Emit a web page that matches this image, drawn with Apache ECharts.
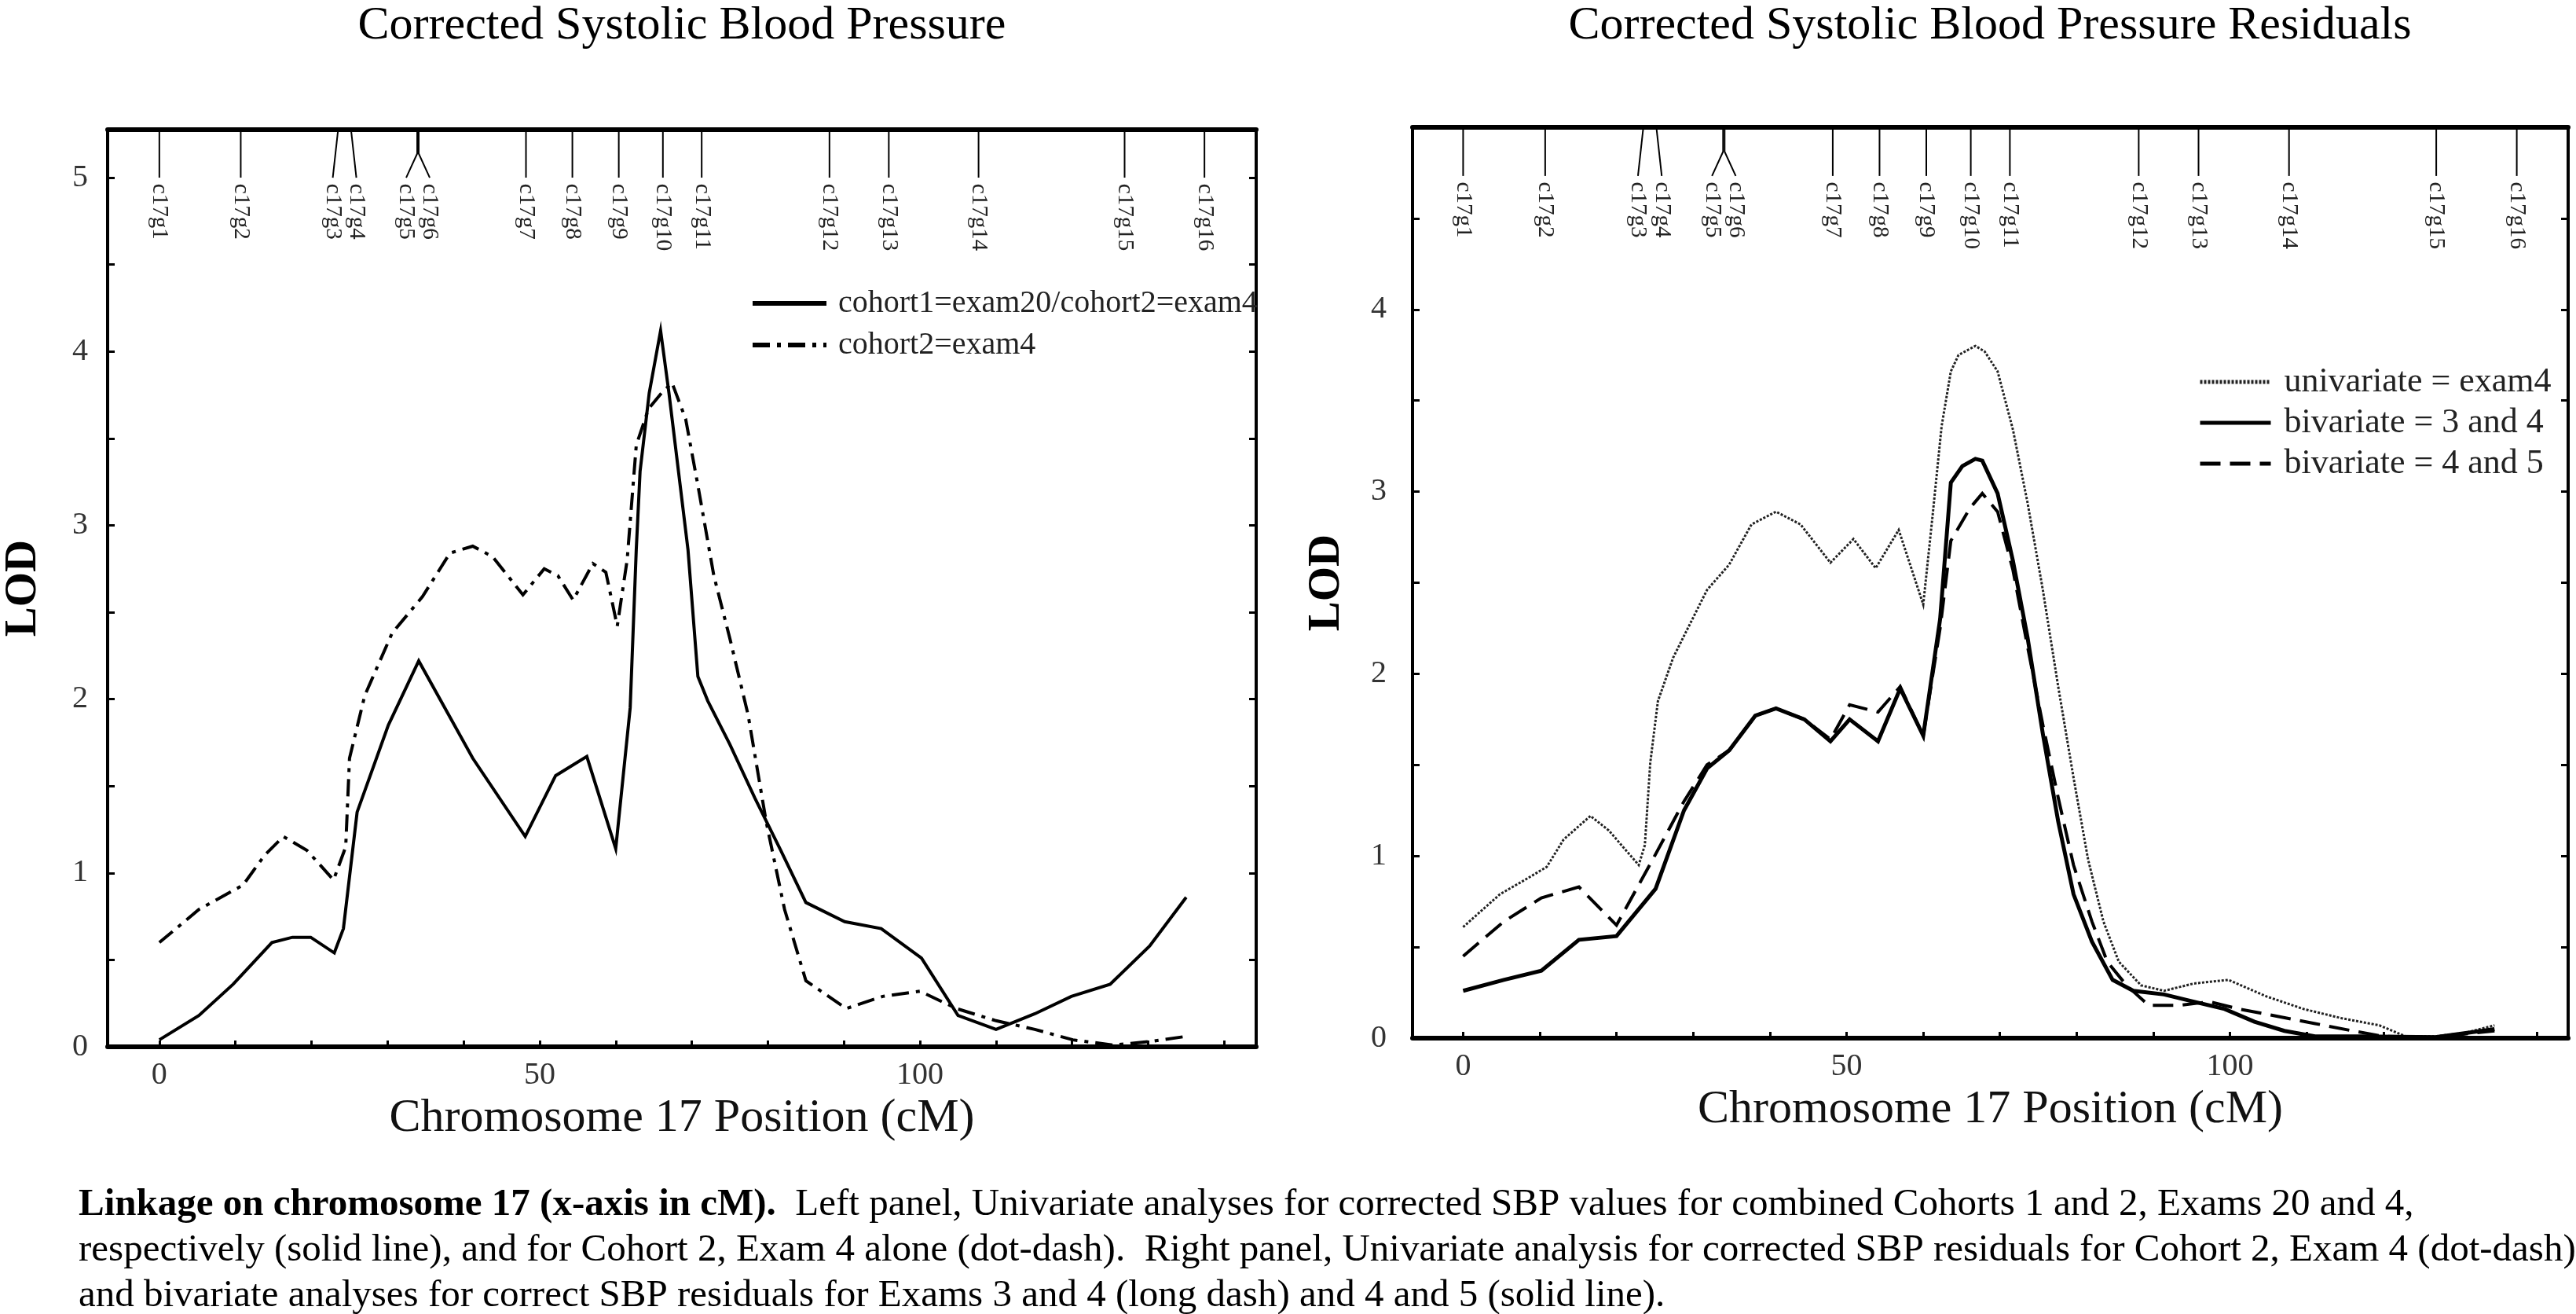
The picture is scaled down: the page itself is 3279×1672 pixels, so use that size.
<!DOCTYPE html>
<html>
<head>
<meta charset="utf-8">
<script src="https://cdn.jsdelivr.net/npm/echarts@6/dist/echarts.min.js"></script>
<style>
html,body{margin:0;padding:0;background:#fff;}
#c{width:3279px;height:1672px;}
</style>
</head>
<body>
<div id="c"></div>
<script>
// ---------------- DATA ----------------
const positionTickLabels = [0, 50, 100];
const lodTickLabelsLeft = [0, 1, 2, 3, 4, 5];
const lodTickLabelsRight = [0, 1, 2, 3, 4];

const markerNames = ['c17g1','c17g2','c17g3','c17g4','c17g5','c17g6','c17g7','c17g8','c17g9','c17g10','c17g11','c17g12','c17g13','c17g14','c17g15','c17g16'];
const markerPos = [0, 10.7, 23.5, 25.2, 33.9, 34.1, 48.2, 54.3, 60.4, 66.2, 71.3, 88.1, 95.9, 107.7, 126.9, 137.4];

const leftNames = ['cohort1=exam20/cohort2=exam4', 'cohort2=exam4'];
const rightNames = ['univariate = exam4', 'bivariate = 3 and 4', 'bivariate = 4 and 5'];

// Left panel: combined cohorts (solid)
const cohort1Exam20Cohort2Exam4 = [
  [0,0.04],[5.2,0.18],[9.7,0.36],[14.8,0.60],[17.5,0.63],[19.9,0.63],[23.0,0.54],[24.2,0.68],
  [26.0,1.35],[30.1,1.85],[34.1,2.22],[41.2,1.66],[48.1,1.21],[52.1,1.56],[56.2,1.67],[60.0,1.14],
  [61.9,1.95],[62.7,2.86],[63.2,3.31],[64.4,3.76],[65.9,4.12],[67.0,3.76],[69.5,2.86],[70.8,2.13],
  [72.1,1.99],[75.0,1.74],[78.3,1.43],[81.7,1.13],[85.0,0.83],[90.1,0.72],[94.9,0.68],[100.2,0.51],
  [105.0,0.18],[110.0,0.10],[115.1,0.19],[119.9,0.29],[125.0,0.36],[130.2,0.58],[135.0,0.86]
];
// Left panel: cohort 2 exam 4 (dot-dash)
const cohort2Exam4 = [
  [0,0.60],[5.2,0.79],[11.0,0.93],[13.8,1.10],[16.3,1.21],[19.4,1.13],[22.9,0.96],[24.5,1.15],
  [25.0,1.66],[27.0,2.02],[30.6,2.38],[34.6,2.59],[38.2,2.84],[41.2,2.88],[43.8,2.82],[47.8,2.60],
  [50.6,2.75],[52.4,2.71],[54.4,2.57],[57.0,2.78],[58.7,2.73],[60.2,2.42],[61.5,2.80],[62.7,3.46],
  [64.3,3.67],[66.0,3.76],[67.4,3.82],[69.2,3.61],[70.8,3.23],[72.9,2.71],[75.0,2.35],[77.4,1.91],
  [79.8,1.29],[82.2,0.79],[85.0,0.38],[90.3,0.22],[95.1,0.29],[100.0,0.32],[104.8,0.22],[110.0,0.15],
  [115.1,0.10],[120.1,0.04],[125.4,0.01],[130.2,0.03],[135.0,0.06]
];
// Right panel: univariate exam4 (dotted)
const univariateExam4 = [
  [0,0.61],[4.8,0.79],[7.7,0.86],[10.9,0.94],[13.1,1.09],[16.6,1.22],[19.0,1.14],[22.9,0.95],
  [23.7,1.06],[24.4,1.51],[25.4,1.85],[27.4,2.09],[29.3,2.25],[31.8,2.46],[34.7,2.60],[37.6,2.82],
  [40.8,2.89],[44.0,2.82],[47.9,2.61],[50.9,2.74],[53.8,2.58],[56.8,2.79],[60.0,2.38],[61.2,2.86],
  [62.4,3.36],[63.6,3.66],[64.6,3.75],[66.8,3.80],[68.0,3.77],[69.7,3.66],[71.7,3.34],[73.6,2.94],
  [75.6,2.46],[77.6,1.93],[79.6,1.43],[81.5,0.98],[83.5,0.64],[85.5,0.42],[88.4,0.29],[91.4,0.26],
  [95.3,0.30],[99.8,0.32],[104.7,0.23],[109.6,0.16],[114.5,0.11],[119.5,0.07],[122.9,0.01],
  [126.8,0.01],[130.8,0.03],[134.5,0.07]
];
// Right panel: bivariate 3 and 4 (solid)
const bivariate3and4 = [
  [0,0.26],[5.3,0.32],[10.2,0.37],[15.1,0.54],[20.0,0.56],[25.1,0.82],[28.8,1.25],[31.8,1.48],
  [34.7,1.58],[38.1,1.77],[40.8,1.81],[44.5,1.75],[47.9,1.63],[50.4,1.75],[54.1,1.63],[57.0,1.92],
  [60.0,1.66],[62.2,2.30],[63.6,3.05],[65.1,3.14],[66.8,3.18],[67.7,3.17],[69.7,2.99],[71.7,2.62],
  [73.6,2.20],[75.6,1.67],[77.6,1.19],[79.6,0.79],[82.0,0.53],[84.7,0.32],[87.4,0.26],[91.4,0.24],
  [95.3,0.20],[99.3,0.16],[103.2,0.09],[107.1,0.04],[111.1,0.01],[117.0,0.01],[126.8,0.005],[134.5,0.05]
];
// Right panel: bivariate 4 and 5 (dashed)
const bivariate4and5 = [
  [0,0.45],[5.3,0.64],[10.2,0.77],[15.1,0.83],[20.0,0.62],[25.1,1.01],[28.8,1.30],[31.8,1.50],
  [34.7,1.58],[38.1,1.77],[40.8,1.81],[44.5,1.75],[47.9,1.64],[50.4,1.83],[54.1,1.79],[57.0,1.93],
  [60.0,1.66],[62.2,2.25],[63.6,2.73],[66.1,2.91],[67.7,2.99],[69.7,2.89],[71.7,2.57],[73.6,2.15],
  [75.6,1.72],[77.6,1.32],[79.6,0.95],[82.0,0.64],[84.0,0.42],[86.5,0.29],[89.4,0.18],[93.4,0.18],
  [97.3,0.20],[101.2,0.16],[106.2,0.12],[111.1,0.08],[116.0,0.04],[120.0,0.01],[126.8,0.005],[134.5,0.04]
];

const titleLeft = 'Corrected Systolic Blood Pressure';
const titleRight = 'Corrected Systolic Blood Pressure Residuals';
const xName = 'Chromosome 17 Position (cM)';
const yName = 'LOD';
const captionBold = 'Linkage on chromosome 17 (x-axis in cM).';
const captionLine1 = '  Left panel, Univariate analyses for corrected SBP values for combined Cohorts 1 and 2, Exams 20 and 4,';
const captionLine2 = 'respectively (solid line), and for Cohort 2, Exam 4 alone (dot-dash).  Right panel, Univariate analysis for corrected SBP residuals for Cohort 2, Exam 4 (dot-dash)';
const captionLine3 = 'and bivariate analyses for correct SBP residuals for Exams 3 and 4 (long dash) and 4 and 5 (solid line).';

// ---------------- LAYOUT / STYLE ----------------
const FF = '"Liberation Serif","Times New Roman",Times,serif';
const chart = echarts.init(document.getElementById('c'), null, {renderer: 'canvas'});

// caption font size: fit line 2 to its width in the reference
const mctx = document.createElement('canvas').getContext('2d');
mctx.font = '100px "Liberation Serif"';
const capSize = Math.round(100 * 3177 / mctx.measureText(captionLine2).width * 10) / 10;

// spread overlapping marker labels
function spreadLabels(pos, minGap) {
  const lab = pos.slice(); const bend = pos.map(() => 0);
  for (let i = 0; i < pos.length - 1; i++) {
    const d = pos[i + 1] - pos[i];
    if (d < minGap) {
      const m = (pos[i] + pos[i + 1]) / 2;
      lab[i] = m - minGap / 2; lab[i + 1] = m + minGap / 2;
      const f = d < 1 ? 0.5 : 0;
      bend[i] = f; bend[i + 1] = f; i++;
    }
  }
  return {lab, bend};
}
const spread = spreadLabels(markerPos, 3.1);
const markerData = markerPos.map((p, i) => [p, spread.lab[i], spread.bend[i]]);

function markerRenderer(cfg) {
  return function (params, api) {
    const pos = api.value(0), lab = api.value(1), frac = api.value(2);
    const top = api.coord([pos, cfg.top]);
    const bend = api.coord([pos, cfg.top - (cfg.top - cfg.end) * frac]);
    const end = api.coord([lab, cfg.end]);
    const lp = api.coord([lab, cfg.labelStart]);
    return {
      type: 'group',
      children: [
        {type: 'polyline', shape: {points: [top, bend, end]}, style: {stroke: '#000', lineWidth: 2, fill: 'none'}},
        {type: 'text', x: lp[0], y: lp[1], rotation: -Math.PI / 2,
          style: {text: markerNames[params.dataIndex], x: 0, y: 0, align: 'left', verticalAlign: 'middle',
            fontSize: 29, fontFamily: FF, fill: '#222'}}
      ]
    };
  };
}

const leftX = {min: -6.8, max: 144.2};
const rightX = {min: -6.6, max: 144.1};
const leftY = {min: 0, max: 5.276};
const rightY = {min: 0, max: 5.0};

function xAxisBottom(grid, r) {
  return {
    type: 'value', gridIndex: grid, position: 'bottom', min: r.min, max: r.max, splitNumber: 15,
    axisLine: {show: true, onZero: false, lineStyle: {color: '#000', width: 6}},
    axisTick: {show: true, inside: true, length: 8, lineStyle: {color: '#000', width: 3}},
    axisLabel: {show: true, margin: 16, fontSize: 40, fontFamily: FF, color: '#333',
      showMinLabel: false, showMaxLabel: false,
      formatter: v => positionTickLabels.indexOf(Math.round(v * 1000) / 1000) >= 0 ? String(v) : ''},
    splitLine: {show: false},
    name: xName, nameLocation: 'middle', nameGap: 57,
    nameTextStyle: {fontSize: 60, fontFamily: FF, color: '#111'}
  };
}
function xAxisTop(grid, r) {
  return {
    type: 'value', gridIndex: grid, position: 'top', min: r.min, max: r.max,
    axisLine: {show: true, onZero: false, lineStyle: {color: '#000', width: 6}},
    axisTick: {show: false}, axisLabel: {show: false}, splitLine: {show: false}
  };
}
function yAxisMain(grid, r, labels, margin, gap) {
  return {
    type: 'value', gridIndex: grid, position: 'left', min: r.min, max: r.max, interval: 0.5,
    axisLine: {show: false, onZero: false},
    axisTick: {show: true, inside: true, length: 9, lineStyle: {color: '#000', width: 3}},
    axisLabel: {show: true, margin: margin, fontSize: 40, fontFamily: FF, color: '#333',
      formatter: v => {
        const rv = Math.round(v * 1000) / 1000;
        return labels.indexOf(rv) >= 0 ? String(rv) : '';
      }},
    splitLine: {show: false},
    name: yName, nameLocation: 'middle', nameGap: gap,
    nameTextStyle: {fontSize: 57, fontWeight: 'bold', fontFamily: FF, color: '#000'}
  };
}
function yAxisRight(grid, r) {
  return {
    type: 'value', gridIndex: grid, position: 'right', min: r.min, max: r.max, interval: 0.5,
    axisLine: {show: false, onZero: false},
    axisTick: {show: true, inside: true, length: 9, lineStyle: {color: '#000', width: 3}},
    axisLabel: {show: false}, splitLine: {show: false}
  };
}

function lineSeries(name, data, xi, yi, style) {
  return {
    name: name, type: 'line', data: data, xAxisIndex: xi, yAxisIndex: yi,
    symbol: 'none', showSymbol: false, smooth: false, animation: false,
    lineStyle: Object.assign({color: '#000', cap: 'butt', join: 'miter'}, style),
    itemStyle: {color: '#000'}, z: 3
  };
}

const option = {
  backgroundColor: '#fff',
  animation: false,
  grid: [
    {left: 137, top: 165, width: 1462, height: 1167, show: true, borderColor: '#000', borderWidth: 4, containLabel: false},
    {left: 1798, top: 162, width: 1471, height: 1159, show: true, borderColor: '#000', borderWidth: 4, containLabel: false}
  ],
  xAxis: [xAxisBottom(0, leftX), xAxisTop(0, leftX), xAxisBottom(1, rightX), xAxisTop(1, rightX)],
  yAxis: [yAxisMain(0, leftY, lodTickLabelsLeft, 25, 78), yAxisRight(0, leftY),
          yAxisMain(1, rightY, lodTickLabelsRight, 33, 80), yAxisRight(1, rightY)],
  legend: [
    {data: leftNames, orient: 'vertical', left: 950, top: 361, itemWidth: 94, itemHeight: 4, itemGap: 13,
      itemStyle: {opacity: 0, borderWidth: 0}, lineStyle: {width: 6},
      textStyle: {fontSize: 40, fontFamily: FF, color: '#222', padding: [0, 0, 0, 10]}, selectedMode: false},
    {data: rightNames, orient: 'vertical', left: 2793, top: 459, itemWidth: 90, itemHeight: 4, itemGap: 8,
      itemStyle: {opacity: 0, borderWidth: 0}, lineStyle: {width: 5},
      textStyle: {fontSize: 44, fontFamily: FF, color: '#222', padding: [0, 0, 0, 12]}, selectedMode: false}
  ],
  series: [
    lineSeries(leftNames[0], cohort1Exam20Cohort2Exam4, 0, 0, {width: 4}),
    lineSeries(leftNames[1], cohort2Exam4, 0, 0, {width: 4, type: [22, 9, 5, 9]}),
    lineSeries(rightNames[0], univariateExam4, 2, 2, {width: 3, type: [3, 2], color: '#222'}),
    lineSeries(rightNames[1], bivariate3and4, 2, 2, {width: 5}),
    lineSeries(rightNames[2], bivariate4and5, 2, 2, {width: 4, type: [26, 12]}),
    {type: 'custom', xAxisIndex: 0, yAxisIndex: 0, data: markerData, encode: {x: [0, 1], y: 2},
      renderItem: markerRenderer({top: leftY.max, end: 5.0, labelStart: 4.965}), silent: true, z: 2},
    {type: 'custom', xAxisIndex: 2, yAxisIndex: 2, data: markerData, encode: {x: [0, 1], y: 2},
      renderItem: markerRenderer({top: rightY.max, end: 4.733, labelStart: 4.70}), silent: true, z: 2}
  ],
  graphic: [
    {type: 'text', x: 868, y: 33, style: {text: titleLeft, fontSize: 60, fontFamily: FF, fill: '#000', align: 'center', verticalAlign: 'middle'}},
    {type: 'text', x: 2533, y: 33, style: {text: titleRight, fontSize: 60, fontFamily: FF, fill: '#000', align: 'center', verticalAlign: 'middle'}},
    {type: 'text', x: 100, y: 1533, style: {
      text: '{b|' + captionBold + '}{r|' + captionLine1 + '}',
      align: 'left', verticalAlign: 'middle', fontSize: capSize, fontFamily: FF, fill: '#000',
      rich: {b: {fontWeight: 'bold', fontSize: capSize, fontFamily: FF, fill: '#000'},
             r: {fontSize: capSize, fontFamily: FF, fill: '#000'}}}},
    {type: 'text', x: 100, y: 1591, style: {text: captionLine2, align: 'left', verticalAlign: 'middle', fontSize: capSize, fontFamily: FF, fill: '#000'}},
    {type: 'text', x: 100, y: 1649, style: {text: captionLine3, align: 'left', verticalAlign: 'middle', fontSize: capSize, fontFamily: FF, fill: '#000'}}
  ]
};
chart.setOption(option);
</script>
</body>
</html>
